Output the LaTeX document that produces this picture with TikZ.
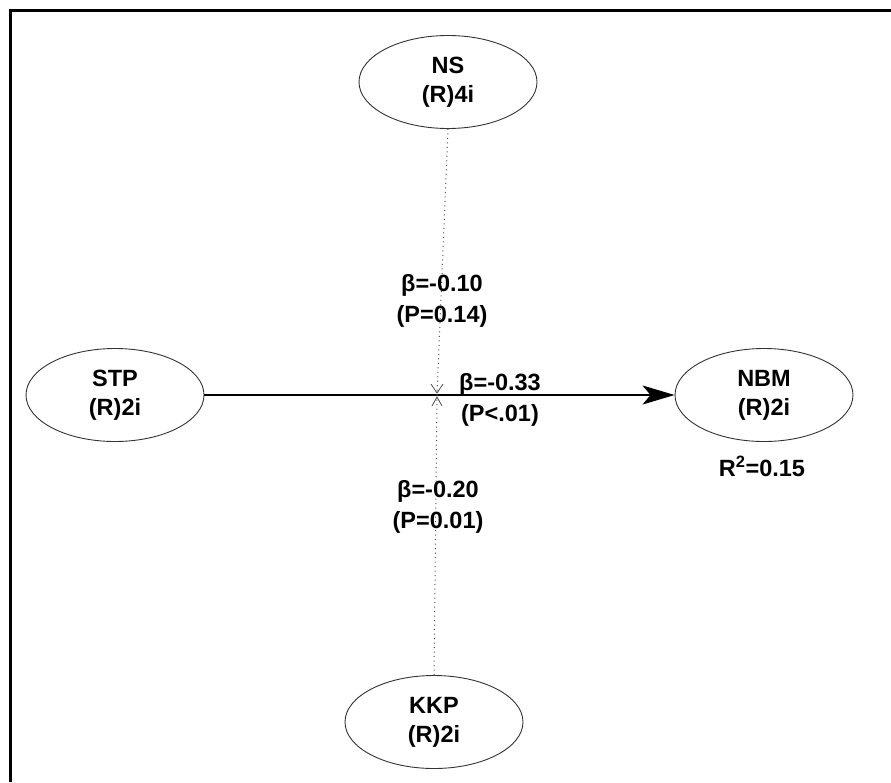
\documentclass[tikz,border=0pt]{standalone}
\usepackage{fontspec}
\setmainfont{Liberation Sans}
\usetikzlibrary{shapes.geometric,arrows.meta}
\begin{document}
\begin{tikzpicture}[x=1pt,y=-1pt,
  latent/.style={ellipse,draw=black!80,line width=0.9pt,minimum width=178pt,minimum height=93pt,inner sep=0pt,
    align=center,font=\fontsize{23.5}{29}\selectfont\bfseries},
  lbl/.style={align=center,inner sep=0pt,font=\fontsize{23.5}{31}\selectfont\bfseries},
  modline/.style={draw=black!70,line width=1pt,dash pattern=on 1pt off 3.5pt},
  frame/.style={line width=3pt,black}]
\useasboundingbox (0,0) rectangle (891,782);
\draw[frame] (10,782) -- (10,10) -- (891,10);
\node[latent] (NS)  at (448,82)  {NS\\(R)4i};
\node[latent] (STP) at (115,395) {STP\\(R)2i};
\node[latent] (NBM) at (764,395) {NBM\\(R)2i};
\node[latent] (KKP) at (434,722) {KKP\\(R)2i};
\coordinate (mid) at (437,395);
\draw[line width=1.2pt,-{Stealth[length=32pt,width=19pt,inset=8pt]}] (STP.east) -- (NBM.west);
\draw[modline] (NS.south) -- (mid);
\draw[modline] (KKP.north) -- (mid);
\draw[black!70,line width=0.8pt] (431,384) -- (437,393) -- (443,384);
\draw[black!70,line width=0.8pt] (432,406) -- (437,397) -- (442,406);
\node[lbl] (l1) at (442,301) {β=-0.10\\(P=0.14)};
\node[lbl] (l2) at (500,400) {β=-0.33\\(P<.01)};
\node[lbl] (l3) at (438,507) {β=-0.20\\(P=0.01)};
\node[lbl] (r2) at (762,466) {R\textsuperscript{2}=0.15};
\end{tikzpicture}
\end{document}
